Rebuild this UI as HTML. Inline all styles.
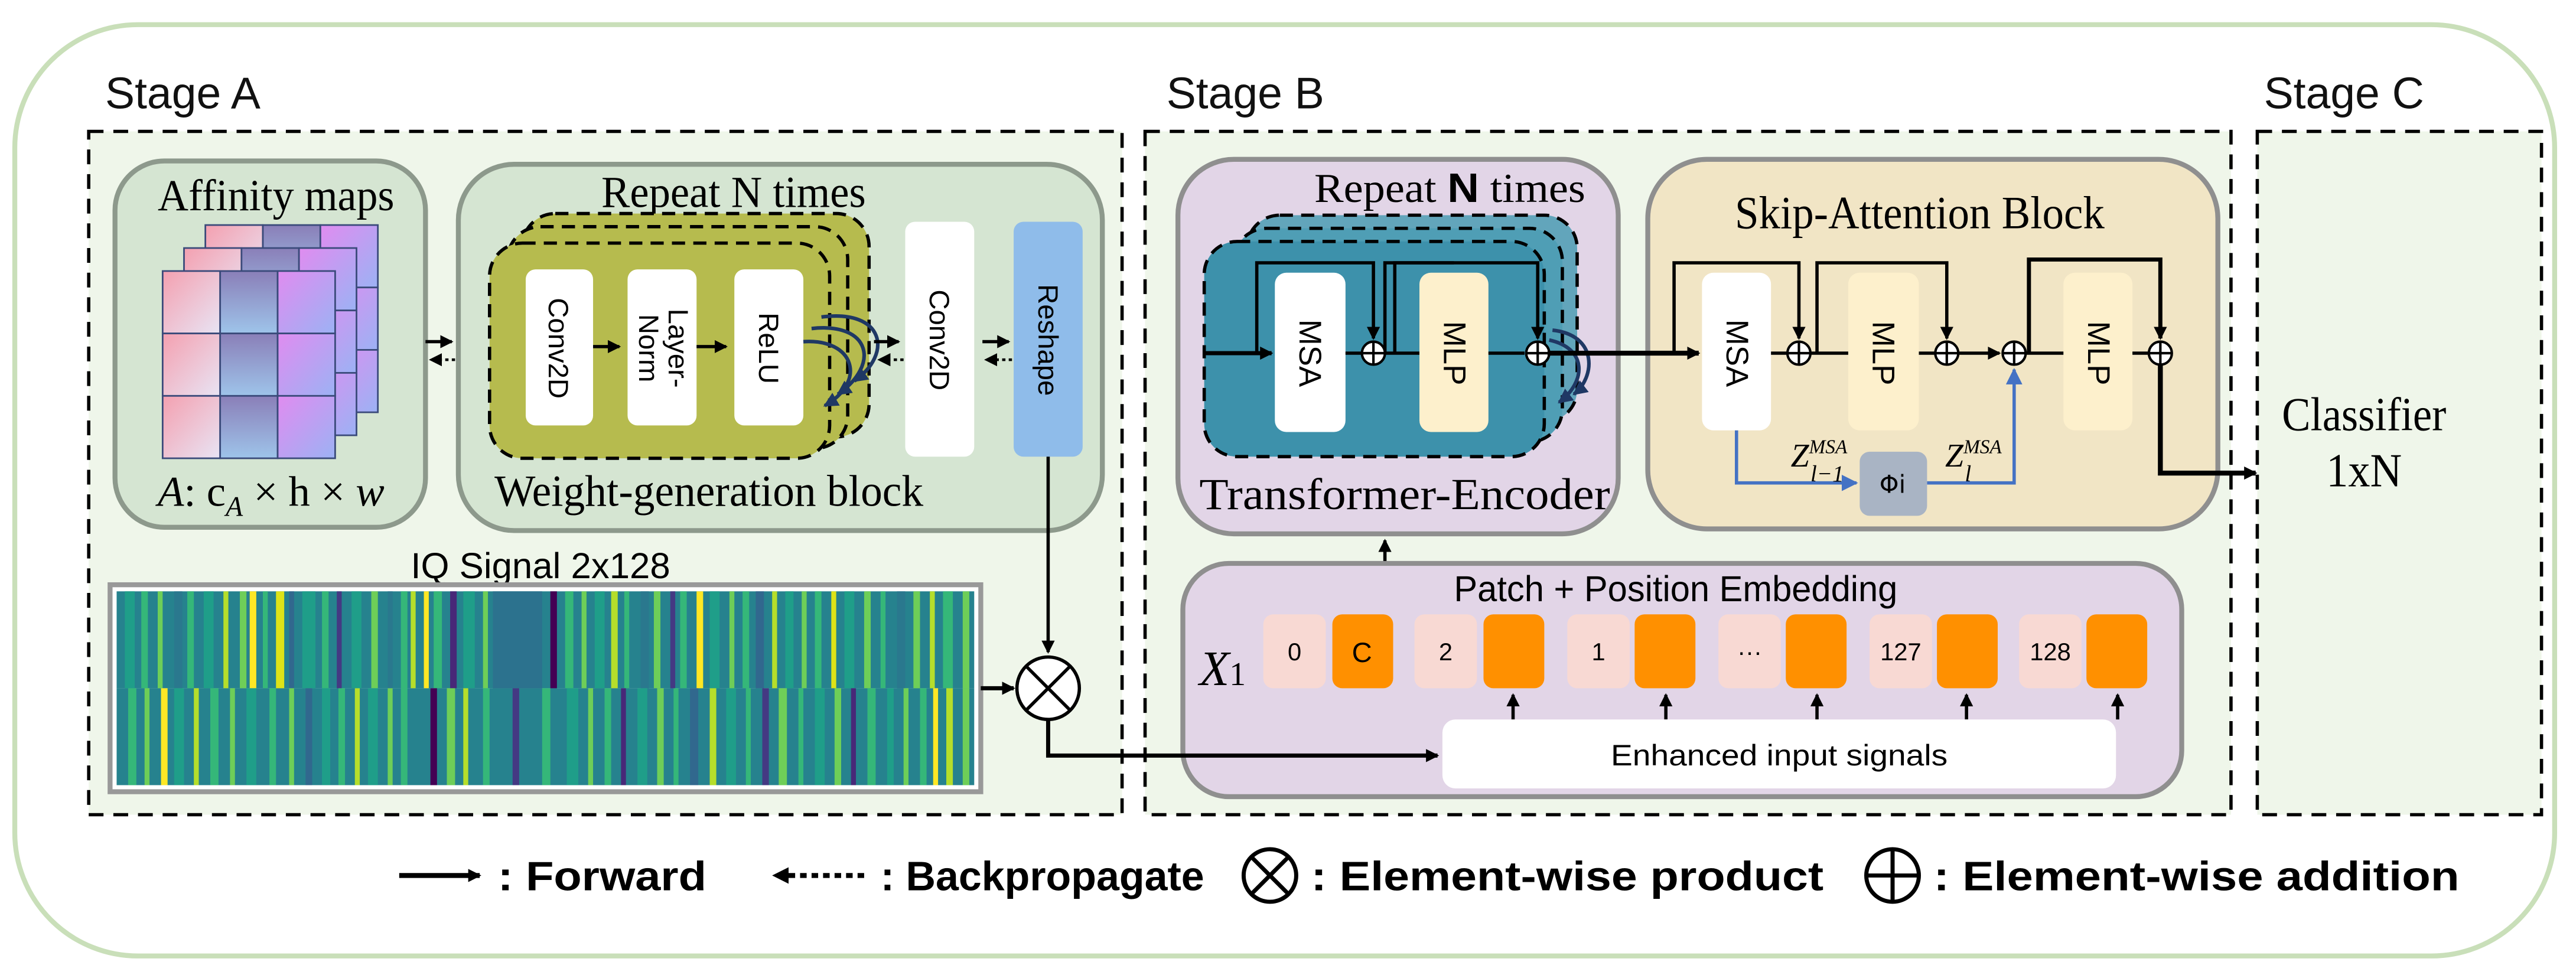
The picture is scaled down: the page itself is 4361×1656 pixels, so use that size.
<!DOCTYPE html>
<html><head><meta charset="utf-8"><style>html,body{margin:0;padding:0;background:#fff}svg{display:block}</style></head>
<body>
<svg width="4361" height="1656" viewBox="0 0 1568 595.4" xmlns="http://www.w3.org/2000/svg">
<defs>
<marker id="ah" markerWidth="8" markerHeight="8" refX="7" refY="4" orient="auto" markerUnits="userSpaceOnUse"><path d="M0,0 L8,4 L0,8 z" fill="#000"/></marker>
<marker id="ahb" markerWidth="10" markerHeight="10" refX="9" refY="5" orient="auto" markerUnits="userSpaceOnUse"><path d="M0,0 L10,5 L0,10 z" fill="#4472c4"/></marker>
<marker id="ahd" markerWidth="9" markerHeight="9" refX="8" refY="4.5" orient="auto" markerUnits="userSpaceOnUse"><path d="M0,0 L9,4.5 L0,9 z" fill="#1f3864"/></marker>
<linearGradient id="gp" x1="0" y1="0" x2="1" y2="1"><stop offset="0" stop-color="#f4a0b0"/><stop offset="1" stop-color="#e8e4f4"/></linearGradient>
<linearGradient id="gb" x1="0" y1="0" x2="0" y2="1"><stop offset="0" stop-color="#8a7fb8"/><stop offset="1" stop-color="#9ec4ea"/></linearGradient>
<linearGradient id="gv" x1="0" y1="0" x2="1" y2="1"><stop offset="0" stop-color="#e08cf0"/><stop offset="1" stop-color="#9cb2f4"/></linearGradient>
<g id="grid">
<rect x="0" y="0" width="35" height="38" fill="url(#gp)" stroke="#3a4a7a"/><rect x="35" y="0" width="35" height="38" fill="url(#gb)" stroke="#3a4a7a"/><rect x="70" y="0" width="35" height="38" fill="url(#gv)" stroke="#3a4a7a"/>
<rect x="0" y="38" width="35" height="38" fill="url(#gp)" stroke="#3a4a7a"/><rect x="35" y="38" width="35" height="38" fill="url(#gb)" stroke="#3a4a7a"/><rect x="70" y="38" width="35" height="38" fill="url(#gv)" stroke="#3a4a7a"/>
<rect x="0" y="76" width="35" height="38" fill="url(#gp)" stroke="#3a4a7a"/><rect x="35" y="76" width="35" height="38" fill="url(#gb)" stroke="#3a4a7a"/><rect x="70" y="76" width="35" height="38" fill="url(#gv)" stroke="#3a4a7a"/>
</g>
<g id="plus"><circle r="7" fill="#fff" stroke="#000" stroke-width="1.5"/><path d="M-7,0H7M0,-7V7" stroke="#000" stroke-width="1.5"/></g>
</defs>

<rect x="9" y="15" width="1546" height="567" rx="75" fill="#fff" stroke="#c9dfb9" stroke-width="3"/>
<g font-family="Liberation Sans, sans-serif" font-size="27" fill="#111">
<text x="64" y="66">Stage A</text><text x="710" y="66">Stage B</text><text x="1378" y="66">Stage C</text></g>

<g fill="#eff6ea" stroke="#000" stroke-width="2" stroke-dasharray="9,6">
<rect x="54" y="80" width="629" height="416"/><rect x="697" y="80" width="661" height="416"/><rect x="1374" y="80" width="173" height="416"/></g>

<!-- Affinity -->
<rect x="70" y="98" width="189" height="223" rx="30" fill="#d5e5d2" stroke="#8d998c" stroke-width="3"/>
<text x="168" y="128" text-anchor="middle" font-family="Liberation Serif, serif" font-size="27" textLength="144" lengthAdjust="spacingAndGlyphs">Affinity maps</text>
<use href="#grid" transform="translate(125,137)"/>
<use href="#grid" transform="translate(112,151)"/>
<use href="#grid" transform="translate(99,165)"/>
<text x="96" y="308" font-family="Liberation Serif, serif" font-size="26" textLength="138" lengthAdjust="spacingAndGlyphs"><tspan font-style="italic">A</tspan>: c<tspan font-style="italic" font-size="17" dy="6">A</tspan><tspan dy="-6"> × h × </tspan><tspan font-style="italic">w</tspan></text>

<path d="M259,208H275" stroke="#000" stroke-width="2" marker-end="url(#ah)"/>
<path d="M277,219H262" stroke="#000" stroke-width="1.6" stroke-dasharray="2,2" marker-end="url(#ah)"/>

<!-- Weight gen -->
<rect x="279" y="100" width="392" height="223" rx="34" fill="#d5e5d2" stroke="#8d998c" stroke-width="3"/>
<text x="366" y="126" font-family="Liberation Serif, serif" font-size="27" textLength="161" lengthAdjust="spacingAndGlyphs">Repeat N times</text>
<rect x="318" y="130" width="211" height="136" rx="20" fill="#b6bb4e" stroke="#000" stroke-width="2" stroke-dasharray="8,5"/>
<rect x="309" y="138" width="207" height="135" rx="20" fill="#b6bb4e" stroke="#000" stroke-width="2" stroke-dasharray="8,5"/>
<rect x="298" y="148" width="207" height="131" rx="20" fill="#b6bb4e" stroke="#000" stroke-width="2" stroke-dasharray="8,5"/>
<g fill="#fff"><rect x="320" y="164" width="41" height="95" rx="6"/><rect x="382" y="164" width="42" height="95" rx="6"/><rect x="447" y="164" width="42" height="95" rx="6"/>
<rect x="551" y="135" width="42" height="143" rx="6"/></g>
<rect x="617" y="135" width="42" height="143" rx="6" fill="#8fbcea"/>
<g font-family="Liberation Sans, sans-serif" font-size="17" fill="#000" text-anchor="middle">
<text transform="translate(334,212) rotate(90)">Conv2D</text>
<text transform="translate(407,212) rotate(90)">Layer-</text><text transform="translate(389,212) rotate(90)">Norm</text>
<text transform="translate(462,212) rotate(90)">ReLU</text>
<text transform="translate(566,207) rotate(90)">Conv2D</text>
<text transform="translate(632,207) rotate(90)">Reshape</text></g>
<path d="M361,211H377" stroke="#000" stroke-width="2" marker-end="url(#ah)"/>
<path d="M424,211H442" stroke="#000" stroke-width="2" marker-end="url(#ah)"/>
<g fill="none" stroke="#1f3864" stroke-width="2.2">
<path d="M489,208 C520,206 528,232 502,247" marker-end="url(#ahd)"/>
<path d="M494,200 C530,196 536,222 510,240" marker-end="url(#ahd)"/>
<path d="M500,193 C538,188 544,215 520,232" marker-end="url(#ahd)"/></g>
<path d="M532,208H547" stroke="#000" stroke-width="2" marker-end="url(#ah)"/>
<path d="M550,219H535" stroke="#000" stroke-width="1.6" stroke-dasharray="2,2" marker-end="url(#ah)"/>
<path d="M598,208H614" stroke="#000" stroke-width="2" marker-end="url(#ah)"/>
<path d="M616,219H600" stroke="#000" stroke-width="1.6" stroke-dasharray="2,2" marker-end="url(#ah)"/>
<text x="301" y="308" font-family="Liberation Serif, serif" font-size="27" textLength="261" lengthAdjust="spacingAndGlyphs">Weight-generation block</text>

<!-- IQ -->
<text x="250" y="352" font-family="Liberation Sans, sans-serif" font-size="22" textLength="158" lengthAdjust="spacingAndGlyphs">IQ Signal  2x128</text>
<rect x="67" y="356" width="530" height="126" fill="#fff" stroke="#999" stroke-width="3"/>
<rect x="71" y="360" width="522" height="59" fill="#26828e"/>
<rect x="71" y="419" width="522" height="59" fill="#26828e"/>
<g>
<rect x="76" y="360" width="6" height="59" fill="#1f9e89"/><rect x="86" y="360" width="4" height="59" fill="#35b779"/><rect x="96" y="360" width="3" height="59" fill="#6ece58"/><rect x="106" y="360" width="5" height="59" fill="#2a788e"/><rect x="114" y="360" width="4" height="59" fill="#35b779"/><rect x="124" y="360" width="6" height="59" fill="#1f9e89"/><rect x="136" y="360" width="3" height="59" fill="#b5de2b"/><rect x="146" y="360" width="4" height="59" fill="#6ece58"/><rect x="152" y="360" width="4" height="59" fill="#fde725"/><rect x="160" y="360" width="3" height="59" fill="#35b779"/><rect x="168" y="360" width="5" height="59" fill="#dde318"/><rect x="176" y="360" width="3" height="59" fill="#31688e"/><rect x="184" y="360" width="8" height="59" fill="#1f9e89"/><rect x="196" y="360" width="4" height="59" fill="#35b779"/><rect x="205" y="360" width="3" height="59" fill="#443983"/><rect x="214" y="360" width="6" height="59" fill="#1f9e89"/><rect x="226" y="360" width="4" height="59" fill="#6ece58"/><rect x="236" y="360" width="3" height="59" fill="#2a788e"/><rect x="244" y="360" width="4" height="59" fill="#35b779"/><rect x="250" y="360" width="3" height="59" fill="#b5de2b"/><rect x="258" y="360" width="3" height="59" fill="#fde725"/><rect x="264" y="360" width="5" height="59" fill="#35b779"/><rect x="274" y="360" width="4" height="59" fill="#482878"/><rect x="282" y="360" width="7" height="59" fill="#1f9e89"/><rect x="294" y="360" width="3" height="59" fill="#6ece58"/><rect x="300" y="360" width="30" height="59" fill="#2c728e"/><rect x="335" y="360" width="4" height="59" fill="#440154"/><rect x="344" y="360" width="5" height="59" fill="#35b779"/><rect x="354" y="360" width="3" height="59" fill="#6ece58"/><rect x="362" y="360" width="6" height="59" fill="#1f9e89"/><rect x="372" y="360" width="4" height="59" fill="#b5de2b"/><rect x="380" y="360" width="3" height="59" fill="#35b779"/><rect x="390" y="360" width="5" height="59" fill="#2a788e"/><rect x="398" y="360" width="4" height="59" fill="#6ece58"/><rect x="408" y="360" width="3" height="59" fill="#443983"/><rect x="414" y="360" width="4" height="59" fill="#35b779"/><rect x="424" y="360" width="4" height="59" fill="#fde725"/><rect x="432" y="360" width="6" height="59" fill="#1f9e89"/><rect x="444" y="360" width="3" height="59" fill="#6ece58"/><rect x="452" y="360" width="4" height="59" fill="#35b779"/><rect x="460" y="360" width="5" height="59" fill="#31688e"/><rect x="470" y="360" width="3" height="59" fill="#b5de2b"/><rect x="478" y="360" width="5" height="59" fill="#1f9e89"/><rect x="488" y="360" width="3" height="59" fill="#6ece58"/><rect x="496" y="360" width="4" height="59" fill="#35b779"/><rect x="506" y="360" width="3" height="59" fill="#dde318"/><rect x="514" y="360" width="6" height="59" fill="#1f9e89"/><rect x="526" y="360" width="4" height="59" fill="#6ece58"/><rect x="536" y="360" width="3" height="59" fill="#35b779"/><rect x="546" y="360" width="5" height="59" fill="#2a788e"/><rect x="556" y="360" width="4" height="59" fill="#6ece58"/><rect x="566" y="360" width="3" height="59" fill="#b5de2b"/><rect x="574" y="360" width="6" height="59" fill="#35b779"/><rect x="586" y="360" width="4" height="59" fill="#6ece58"/>
<rect x="78" y="419" width="5" height="59" fill="#35b779"/><rect x="88" y="419" width="3" height="59" fill="#6ece58"/><rect x="98" y="419" width="4" height="59" fill="#fde725"/><rect x="106" y="419" width="6" height="59" fill="#1f9e89"/><rect x="118" y="419" width="3" height="59" fill="#b5de2b"/><rect x="128" y="419" width="5" height="59" fill="#35b779"/><rect x="140" y="419" width="3" height="59" fill="#6ece58"/><rect x="150" y="419" width="6" height="59" fill="#1f9e89"/><rect x="164" y="419" width="4" height="59" fill="#35b779"/><rect x="176" y="419" width="3" height="59" fill="#6ece58"/><rect x="186" y="419" width="4" height="59" fill="#31688e"/><rect x="196" y="419" width="5" height="59" fill="#1f9e89"/><rect x="206" y="419" width="4" height="59" fill="#35b779"/><rect x="216" y="419" width="3" height="59" fill="#b5de2b"/><rect x="224" y="419" width="6" height="59" fill="#1f9e89"/><rect x="236" y="419" width="3" height="59" fill="#6ece58"/><rect x="244" y="419" width="4" height="59" fill="#35b779"/><rect x="262" y="419" width="4" height="59" fill="#440154"/><rect x="272" y="419" width="5" height="59" fill="#6ece58"/><rect x="282" y="419" width="3" height="59" fill="#b5de2b"/><rect x="294" y="419" width="4" height="59" fill="#35b779"/><rect x="312" y="419" width="4" height="59" fill="#443983"/><rect x="330" y="419" width="5" height="59" fill="#35b779"/><rect x="345" y="419" width="7" height="59" fill="#1f9e89"/><rect x="358" y="419" width="3" height="59" fill="#6ece58"/><rect x="368" y="419" width="4" height="59" fill="#35b779"/><rect x="378" y="419" width="3" height="59" fill="#482878"/><rect x="388" y="419" width="6" height="59" fill="#1f9e89"/><rect x="400" y="419" width="4" height="59" fill="#6ece58"/><rect x="410" y="419" width="3" height="59" fill="#35b779"/><rect x="420" y="419" width="5" height="59" fill="#31688e"/><rect x="432" y="419" width="4" height="59" fill="#b5de2b"/><rect x="442" y="419" width="6" height="59" fill="#1f9e89"/><rect x="454" y="419" width="3" height="59" fill="#35b779"/><rect x="464" y="419" width="4" height="59" fill="#443983"/><rect x="474" y="419" width="5" height="59" fill="#6ece58"/><rect x="486" y="419" width="3" height="59" fill="#35b779"/><rect x="496" y="419" width="6" height="59" fill="#1f9e89"/><rect x="508" y="419" width="4" height="59" fill="#6ece58"/><rect x="518" y="419" width="3" height="59" fill="#482878"/><rect x="528" y="419" width="5" height="59" fill="#35b779"/><rect x="540" y="419" width="4" height="59" fill="#1f9e89"/><rect x="550" y="419" width="3" height="59" fill="#6ece58"/><rect x="560" y="419" width="4" height="59" fill="#35b779"/><rect x="568" y="419" width="3" height="59" fill="#fde725"/><rect x="576" y="419" width="4" height="59" fill="#b5de2b"/><rect x="586" y="419" width="4" height="59" fill="#6ece58"/>
</g>

<!-- Transformer -->
<rect x="717" y="97" width="268" height="228" rx="34" fill="#e2d5e7" stroke="#8f8f8f" stroke-width="3"/>
<text x="800" y="123" font-family="Liberation Serif, serif" font-size="25" textLength="165" lengthAdjust="spacingAndGlyphs">Repeat <tspan font-family="Liberation Sans, sans-serif" font-weight="bold">N</tspan> times</text>
<rect x="759" y="131" width="201" height="126" rx="20" fill="#62a5bb" stroke="#000" stroke-width="2" stroke-dasharray="8,5"/>
<rect x="751" y="139" width="200" height="130" rx="20" fill="#4f9eb5" stroke="#000" stroke-width="2" stroke-dasharray="8,5"/>
<rect x="733" y="147" width="207" height="131" rx="20" fill="#3d91ab" stroke="#000" stroke-width="2" stroke-dasharray="8,5"/>
<rect x="776" y="166" width="43" height="97" rx="7" fill="#fff"/>
<rect x="864" y="166" width="42" height="97" rx="7" fill="#fdf0cc"/>
<g font-family="Liberation Sans, sans-serif" font-size="19" text-anchor="middle">
<text transform="translate(791,215) rotate(90)">MSA</text><text transform="translate(879,215) rotate(90)">MLP</text></g>
<path d="M733,215H774" stroke="#000" stroke-width="2.5" marker-end="url(#ah)"/>
<path d="M819,215H864M906,215H928" stroke="#000" stroke-width="2"/>
<path d="M843,215V160H885M843,215" fill="none" stroke="#000" stroke-width="2"/>
<path d="M765,215V160H836V206" fill="none" stroke="#000" stroke-width="2" marker-end="url(#ah)"/>
<path d="M849,215V160H936V206" fill="none" stroke="#000" stroke-width="2" marker-end="url(#ah)"/>
<use href="#plus" x="836" y="215"/><use href="#plus" x="936" y="215"/>
<g fill="none" stroke="#1f3864" stroke-width="2.2">
<path d="M943,207 C966,212 966,232 949,245" marker-end="url(#ahd)"/>
<path d="M945,201 C973,204 971,230 958,240" marker-end="url(#ahd)"/></g>
<text x="730" y="310" font-family="Liberation Serif, serif" font-size="27" textLength="250" lengthAdjust="spacingAndGlyphs">Transformer-Encoder</text>
<path d="M843,343V329" stroke="#000" stroke-width="2" marker-end="url(#ah)"/>

<!-- Skip attention -->
<rect x="1003" y="97" width="347" height="225" rx="36" fill="#f1e5c5" stroke="#8f8f8f" stroke-width="3"/>
<text x="1056" y="139" font-family="Liberation Serif, serif" font-size="28" textLength="225" lengthAdjust="spacingAndGlyphs">Skip-Attention Block</text>
<rect x="1036" y="166" width="42" height="96" rx="7" fill="#fff"/>
<rect x="1125" y="166" width="43" height="96" rx="7" fill="#fdf0cc"/>
<rect x="1256" y="166" width="42" height="96" rx="7" fill="#fdf0cc"/>
<g font-family="Liberation Sans, sans-serif" font-size="19" text-anchor="middle">
<text transform="translate(1051,215) rotate(90)">MSA</text><text transform="translate(1140,215) rotate(90)">MLP</text><text transform="translate(1271,215) rotate(90)">MLP</text></g>
<path d="M1078,215H1125M1168,215H1185M1232,215H1256M1298,215H1308" stroke="#000" stroke-width="2"/>
<path d="M1192,215H1217" stroke="#000" stroke-width="2" marker-end="url(#ah)"/>
<path d="M1019,215V160H1095V206" fill="none" stroke="#000" stroke-width="2" marker-end="url(#ah)"/>
<path d="M1106,215V160H1185V206" fill="none" stroke="#000" stroke-width="2" marker-end="url(#ah)"/>
<path d="M1235,215V158H1315V206" fill="none" stroke="#000" stroke-width="2.5" marker-end="url(#ah)"/>
<use href="#plus" x="1095" y="215"/><use href="#plus" x="1185" y="215"/><use href="#plus" x="1226" y="215"/><use href="#plus" x="1315" y="215"/>
<path d="M1315,222V288H1373" fill="none" stroke="#000" stroke-width="3" marker-end="url(#ah)"/>
<path d="M1057,262V294H1130" fill="none" stroke="#4472c4" stroke-width="2" marker-end="url(#ahb)"/>
<path d="M1173,294H1226V225" fill="none" stroke="#4472c4" stroke-width="2" marker-end="url(#ahb)"/>
<rect x="1132" y="275" width="41" height="39" rx="6" fill="#a9b4c4"/>
<text x="1152" y="300" text-anchor="middle" font-family="DejaVu Sans, sans-serif" font-size="15">Φi</text>
<g font-family="Liberation Serif, serif" font-style="italic">
<text x="1090" y="284" font-size="20">Z<tspan font-size="12" dy="-8">MSA</tspan></text><text x="1102" y="293" font-size="14">l−1</text>
<text x="1184" y="284" font-size="20">Z<tspan font-size="12" dy="-8">MSA</tspan></text><text x="1196" y="293" font-size="14">l</text></g>
<path d="M942,215H1034" stroke="#000" stroke-width="3" marker-end="url(#ah)"/>

<!-- Classifier -->
<g font-family="Liberation Serif, serif" font-size="29" text-anchor="middle"><text x="1439" y="262" textLength="100" lengthAdjust="spacingAndGlyphs">Classifier</text><text x="1439" y="296" textLength="46" lengthAdjust="spacingAndGlyphs">1xN</text></g>

<!-- Patch embedding -->
<rect x="720" y="343" width="608" height="142" rx="28" fill="#e2d5e7" stroke="#8f8f8f" stroke-width="3"/>
<text x="1020" y="366" text-anchor="middle" font-family="Liberation Sans, sans-serif" font-size="22" textLength="270" lengthAdjust="spacingAndGlyphs">Patch + Position Embedding</text>
<text x="730" y="417" font-family="Liberation Serif, serif" font-style="italic" font-size="30">X<tspan font-style="normal" font-size="20">1</tspan></text>
<g font-family="Liberation Sans, sans-serif" font-size="15" text-anchor="middle">
<rect x="769" y="374" width="38" height="45" rx="6" fill="#f8d9d3"/><rect x="811" y="374" width="37" height="45" rx="6" fill="#ff9000"/><text x="788" y="402">0</text><text x="829" y="403" font-size="17">C</text>
<rect x="861" y="374" width="38" height="45" rx="6" fill="#f8d9d3"/><rect x="903" y="374" width="37" height="45" rx="6" fill="#ff9000"/><text x="880" y="402">2</text>
<rect x="954" y="374" width="38" height="45" rx="6" fill="#f8d9d3"/><rect x="995" y="374" width="37" height="45" rx="6" fill="#ff9000"/><text x="973" y="402">1</text>
<rect x="1046" y="374" width="38" height="45" rx="6" fill="#f8d9d3"/><rect x="1087" y="374" width="37" height="45" rx="6" fill="#ff9000"/><text x="1065" y="402">···</text>
<rect x="1138" y="374" width="38" height="45" rx="6" fill="#f8d9d3"/><rect x="1179" y="374" width="37" height="45" rx="6" fill="#ff9000"/><text x="1157" y="402">127</text>
<rect x="1229" y="374" width="38" height="45" rx="6" fill="#f8d9d3"/><rect x="1270" y="374" width="37" height="45" rx="6" fill="#ff9000"/><text x="1248" y="402">128</text></g>
<g stroke="#000" stroke-width="2"><path d="M921,438V423" marker-end="url(#ah)"/><path d="M1014,438V423" marker-end="url(#ah)"/><path d="M1106,438V423" marker-end="url(#ah)"/><path d="M1197,438V423" marker-end="url(#ah)"/><path d="M1289,438V423" marker-end="url(#ah)"/></g>
<rect x="878" y="438" width="410" height="42" rx="8" fill="#fff"/>
<text x="1083" y="466" text-anchor="middle" font-family="Liberation Sans, sans-serif" font-size="18" textLength="205" lengthAdjust="spacingAndGlyphs">Enhanced input signals</text>

<!-- product -->
<path d="M638,278V397" stroke="#000" stroke-width="2" marker-end="url(#ah)"/>
<path d="M597,419H617" stroke="#000" stroke-width="2.5" marker-end="url(#ah)"/>
<circle cx="638" cy="419" r="19" fill="#fff" stroke="#000" stroke-width="2"/>
<path d="M625,406L651,432M651,406L625,432" stroke="#000" stroke-width="2"/>
<path d="M638,438V460H875" fill="none" stroke="#000" stroke-width="2.5" marker-end="url(#ah)"/>

<!-- Legend -->
<g font-family="Liberation Sans, sans-serif" font-weight="bold" font-size="25">
<path d="M243,533H292" stroke="#000" stroke-width="3" marker-end="url(#ah)"/><text x="303" y="542" textLength="127" lengthAdjust="spacingAndGlyphs">: Forward</text>
<path d="M470,533L480,528V538z" fill="#000"/><path d="M480,533H527" stroke="#000" stroke-width="3" stroke-dasharray="4,3"/><text x="536" y="542" textLength="197" lengthAdjust="spacingAndGlyphs">: Backpropagate</text>
<circle cx="773" cy="533" r="16" fill="#fff" stroke="#000" stroke-width="2.5"/><path d="M762,522L784,544M784,522L762,544" stroke="#000" stroke-width="2.5"/><text x="798" y="542" textLength="312" lengthAdjust="spacingAndGlyphs">: Element-wise product</text>
<circle cx="1152" cy="533" r="16" fill="#fff" stroke="#000" stroke-width="2.5"/><path d="M1136,533H1168M1152,517V549" stroke="#000" stroke-width="2.5"/><text x="1177" y="542" textLength="320" lengthAdjust="spacingAndGlyphs">: Element-wise addition</text>
</g>
</svg>
</body></html>
